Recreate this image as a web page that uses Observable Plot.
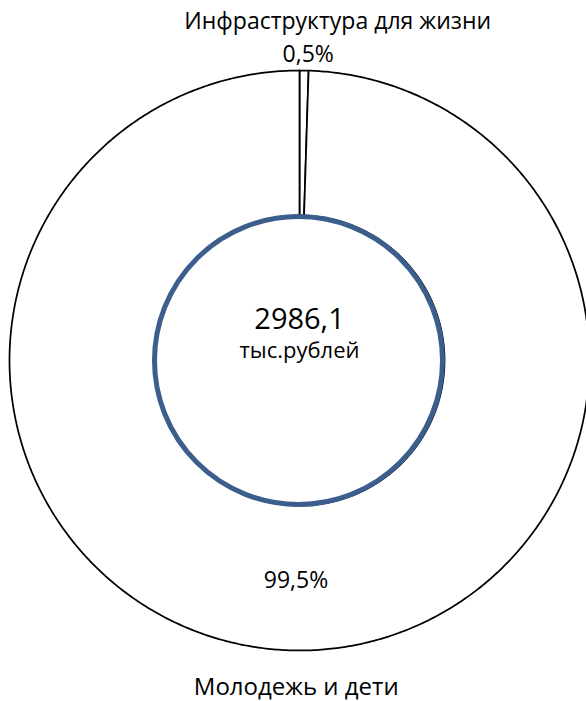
<!DOCTYPE html>
<html>
<head>
<meta charset="utf-8">
<script src="https://cdn.jsdelivr.net/npm/d3@7"></script>
<script src="https://cdn.jsdelivr.net/npm/@observablehq/plot@0.6"></script>
<style>
  html, body { margin: 0; padding: 0; background: #fff; }
  #chart svg { display: block; }
</style>
</head>
<body>
<div id="chart"></div>
<script>
// ---- data ----
const categories = ["Инфраструктура для жизни", "Молодежь и дети"];
const shares = [0.5, 99.5];
const shareLabels = ["0,5%", "99,5%"];
const totalValue = "2986,1";
const totalUnit = "тыс.рублей";

// ---- build slices from the data ----
const innerR = 0.5;
const pie = d3.pie().sort(null).value(d => d.share).startAngle(0).endAngle(2 * Math.PI);
const rows = categories.map((c, i) => ({category: c, share: shares[i], label: shareLabels[i]}));
const arcs = pie(rows);

const pts = [];
arcs.forEach((a, k) => {
  const step = Math.PI / 360;
  const n = Math.max(2, Math.ceil((a.endAngle - a.startAngle) / step));
  const ring = [];
  for (let i = 0; i <= n; i++) {
    const t = a.startAngle + (a.endAngle - a.startAngle) * i / n;
    ring.push([Math.sin(t), Math.cos(t)]);
  }
  for (let i = n; i >= 0; i--) {
    const t = a.startAngle + (a.endAngle - a.startAngle) * i / n;
    ring.push([innerR * Math.sin(t), innerR * Math.cos(t)]);
  }
  ring.push(ring[0]);
  ring.forEach(([x, y]) => pts.push({slice: a.data.category, x, y}));
});

// label anchors from slice mid-angles
const labelRows = [];
arcs.forEach(a => {
  const mid = (a.startAngle + a.endAngle) / 2;
  const small = a.data.share < 5;
  const rPct = small ? 1.030 : 0.783;
  const rName = small ? 1.143 : 1.152;
  labelRows.push({text: a.data.label, x: rPct * Math.sin(mid), y: rPct * Math.cos(mid), kind: "pct", small});
  labelRows.push({text: a.data.category, x: rName * Math.sin(mid), y: rName * Math.cos(mid), kind: "name", small});
});

const font = "'Open Sans', sans-serif";

const chart = Plot.plot({
  width: 586,
  height: 701,
  margin: 0,
  x: {domain: [-1, 1], range: [9, 589], axis: null},
  y: {domain: [-1, 1], range: [650, 70], axis: null},
  style: {fontFamily: font, background: "#fff", overflow: "hidden"},
  marks: [
    Plot.line(pts, {x: "x", y: "y", z: "slice", fill: "white", stroke: "black", strokeWidth: 1.75, curve: "linear"}),
    Plot.dot([{x: 0, y: 0}], {x: "x", y: "y", r: 144, dx: -1, fill: "none", stroke: "#3b5e8c", strokeWidth: 5}),
    Plot.text(labelRows.filter(d => d.kind === "pct" && d.small), {x: "x", y: "y", text: "text", lineAnchor: "bottom", fontSize: 23, dx: 4, fill: "black"}),
    Plot.text(labelRows.filter(d => d.kind === "pct" && !d.small), {x: "x", y: "y", text: "text", lineAnchor: "bottom", fontSize: 23, fill: "black"}),
    Plot.text(labelRows.filter(d => d.kind === "name" && d.small), {x: "x", y: "y", text: "text", lineAnchor: "bottom", fontSize: 23, dx: 33, fill: "black"}),
    Plot.text(labelRows.filter(d => d.kind === "name" && !d.small), {x: "x", y: "y", text: "text", lineAnchor: "bottom", fontSize: 24, dx: 2, fill: "black"}),
    Plot.text([totalValue], {x: () => 0, y: () => 0, text: d => d, lineAnchor: "bottom", fontSize: 29, dy: -32, fill: "black"}),
    Plot.text([totalUnit], {x: () => 0, y: () => 0, text: d => d, lineAnchor: "bottom", fontSize: 22, dy: -3, fill: "black"})
  ]
});
document.getElementById("chart").appendChild(chart);
</script>
</body>
</html>
